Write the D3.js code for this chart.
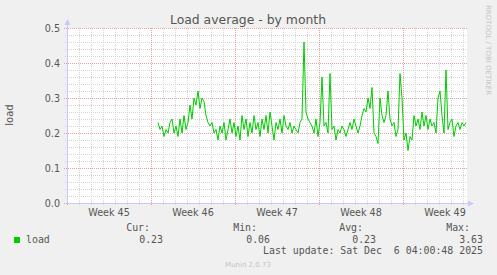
<!DOCTYPE html>
<html>
<head>
<meta charset="utf-8">
<script src="https://cdn.jsdelivr.net/npm/d3@7"></script>
<style>
  body { margin: 0; background: #f0f0f0; }
  text { font-family: "DejaVu Sans", sans-serif; }
  .mono { font-family: "DejaVu Sans Mono", monospace; font-size: 9.9px; fill: #555; }
</style>
</head>
<body>
<div id="chart"></div>
<script>
// series: load average, one sample every 4 hours
const seriesStart = "2025-11-10T14:00:00Z";
const stepHours = 4;
const loadValues = [
  0.23, 0.21, 0.22, 0.19, 0.21, 0.20, 0.23, 0.24, 0.20, 0.22,
  0.19, 0.24, 0.20, 0.25, 0.21, 0.23, 0.28, 0.24, 0.30, 0.28,
  0.32, 0.27, 0.30, 0.29, 0.25, 0.23, 0.22, 0.23, 0.20, 0.21,
  0.18, 0.22, 0.20, 0.23, 0.18, 0.21, 0.24, 0.20, 0.23, 0.19,
  0.22, 0.18, 0.25, 0.21, 0.24, 0.19, 0.23, 0.20, 0.25, 0.21,
  0.23, 0.19, 0.24, 0.21, 0.25, 0.20, 0.26, 0.22, 0.18, 0.23,
  0.21, 0.24, 0.20, 0.25, 0.22, 0.21, 0.23, 0.20, 0.22, 0.21,
  0.20, 0.23, 0.24, 0.46, 0.26, 0.24, 0.23, 0.22, 0.20, 0.24,
  0.19, 0.23, 0.36, 0.22, 0.23, 0.20, 0.37, 0.21, 0.22, 0.18,
  0.21, 0.20, 0.22, 0.21, 0.19, 0.21, 0.23, 0.21, 0.24, 0.22,
  0.20, 0.22, 0.25, 0.27, 0.26, 0.30, 0.27, 0.33, 0.20, 0.19,
  0.17, 0.30, 0.25, 0.23, 0.25, 0.32, 0.24, 0.22, 0.23, 0.19,
  0.21, 0.37, 0.30, 0.18, 0.20, 0.15, 0.19, 0.18, 0.25, 0.22,
  0.24, 0.21, 0.26, 0.22, 0.25, 0.21, 0.24, 0.22, 0.23, 0.20,
  0.30, 0.32, 0.25, 0.20, 0.38, 0.21, 0.23, 0.24, 0.19, 0.22,
  0.23, 0.21, 0.23, 0.22, 0.23
];
const yTicks = [0.0, 0.1, 0.2, 0.3, 0.4, 0.5];
const weekLabels = ["Week 45", "Week 46", "Week 47", "Week 48", "Week 49"];
const legendHeaders = ["Cur:", "Min:", "Avg:", "Max:"];
const legendValues = ["0.23", "0.06", "0.23", "3.63"];
const lastUpdate = "Last update: Sat Dec  6 04:00:48 2025";

const W = 497, H = 275;
const plotLeft = 67, plotRight = 467, plotTop = 28, plotBottom = 203;
const endTime = new Date("2025-12-06T08:00:00Z");
const startTime = new Date(endTime.getTime() - 400 * 7200 * 1000);
const DAY = 86400000;

const svg = d3.select("#chart").append("svg")
  .attr("width", W).attr("height", H)
  .style("display", "block");

svg.append("rect").attr("width", W).attr("height", H).attr("fill", "#f0f0f0");
svg.append("rect")
  .attr("x", plotLeft).attr("y", plotTop)
  .attr("width", plotRight - plotLeft).attr("height", plotBottom - plotTop)
  .attr("fill", "#fff");

const x = d3.scaleUtc().domain([startTime, endTime]).range([plotLeft, plotRight]);
const y = d3.scaleLinear().domain([0, 0.5]).range([plotBottom, plotTop]);
const px = (v) => Math.round(v) + 0.5;

// minor grid: days and 0.02 (skipping where a major line sits)
const days = d3.utcDay.range(startTime, endTime).filter((d) => d.getUTCDay() !== 1);
svg.append("g").selectAll("line").data(days).enter()
  .append("line")
  .attr("x1", (d) => px(x(d))).attr("x2", (d) => px(x(d)))
  .attr("y1", plotTop).attr("y2", plotBottom + 2)
  .attr("stroke", "#d4d4d4").attr("stroke-dasharray", "1,1");
const minorY = d3.range(1, 26).filter((k) => k % 5 !== 0).map((k) => k * 0.02);
svg.append("g").selectAll("line").data(minorY).enter()
  .append("line")
  .attr("x1", plotLeft - 2).attr("x2", plotRight)
  .attr("y1", (d) => px(y(d))).attr("y2", (d) => px(y(d)))
  .attr("stroke", "#d4d4d4").attr("stroke-dasharray", "1,1");

// major grid: weeks and 0.1
const weeks = d3.utcMonday.range(startTime, endTime);
svg.append("g").selectAll("line").data(weeks).enter()
  .append("line")
  .attr("x1", (d) => px(x(d))).attr("x2", (d) => px(x(d)))
  .attr("y1", plotTop).attr("y2", plotBottom + 3)
  .attr("stroke", "#e6a0a0").attr("stroke-dasharray", "1,1");
svg.append("g").selectAll("line").data(yTicks).enter()
  .append("line")
  .attr("x1", plotLeft - 3).attr("x2", plotRight)
  .attr("y1", (d) => px(y(d))).attr("y2", (d) => px(y(d)))
  .attr("stroke", "#e6a0a0").attr("stroke-dasharray", "1,1");

// axes
const axisColor = "#c8c8ff";
svg.append("line").attr("x1", plotLeft + 0.5).attr("x2", plotLeft + 0.5)
  .attr("y1", plotTop - 4).attr("y2", plotBottom + 1).attr("stroke", axisColor);
svg.append("line").attr("x1", plotLeft).attr("x2", plotRight + 2)
  .attr("y1", plotBottom + 0.5).attr("y2", plotBottom + 0.5).attr("stroke", axisColor);
svg.append("path").attr("d", `M${plotLeft - 2.5},${plotTop - 3} L${plotLeft + 3.5},${plotTop - 3} L${plotLeft + 0.5},${plotTop - 9} Z`)
  .attr("fill", axisColor);
svg.append("path").attr("d", `M${plotRight + 1},${plotBottom - 2.5} L${plotRight + 1},${plotBottom + 3.5} L${plotRight + 7},${plotBottom + 0.5} Z`)
  .attr("fill", axisColor);

// y tick labels
svg.append("g").selectAll("text").data(yTicks).enter()
  .append("text")
  .attr("x", plotLeft - 7).attr("y", (d) => y(d) + 3.5)
  .attr("text-anchor", "end")
  .attr("font-size", "9.6px").attr("fill", "#555")
  .text((d) => d.toFixed(1));

// x week labels, centered in each week
svg.append("g").selectAll("text").data(weekLabels).enter()
  .append("text")
  .attr("x", (d, i) => x(new Date(weeks[0].getTime() + (7 * i + 3.5) * DAY)))
  .attr("y", 216)
  .attr("text-anchor", "middle")
  .attr("font-size", "9.6px").attr("fill", "#555")
  .text((d) => d);

// data line
const points = loadValues.map((v, i) => ({
  t: new Date(new Date(seriesStart).getTime() + i * stepHours * 3600 * 1000),
  v: v
}));
svg.append("path")
  .datum(points)
  .attr("fill", "none")
  .attr("stroke", "#00cc00")
  .attr("stroke-width", 1)
  .attr("d", d3.line().x((d) => x(d.t)).y((d) => y(d.v)));

// title and labels
svg.append("text").attr("x", 248).attr("y", 24)
  .attr("text-anchor", "middle").attr("font-size", "12.4px").attr("fill", "#555")
  .text("Load average - by month");
svg.append("text").attr("transform", "translate(13,115) rotate(-90)")
  .attr("text-anchor", "middle").attr("font-size", "10px").attr("fill", "#555")
  .text("load");
svg.append("text").attr("transform", "translate(486,5) rotate(90)")
  .attr("text-anchor", "start").attr("font-size", "7px").attr("fill", "#c4c4c4")
  .text("RRDTOOL / TOBI OETIKER");

// legend
svg.append("rect").attr("x", 14).attr("y", 237).attr("width", 6).attr("height", 6).attr("fill", "#00cc00");
svg.append("text").attr("class", "mono").attr("x", 26).attr("y", 243).text("load");
const headerRight = [150, 257, 363, 470];
svg.append("g").selectAll("text").data(legendHeaders).enter()
  .append("text").attr("class", "mono")
  .attr("x", (d, i) => headerRight[i]).attr("y", 231)
  .attr("text-anchor", "end").text((d) => d);
svg.append("g").selectAll("text").data(legendValues).enter()
  .append("text").attr("class", "mono")
  .attr("x", (d, i) => headerRight[i] + 13).attr("y", 243)
  .attr("text-anchor", "end").text((d) => d);
svg.append("text").attr("class", "mono").attr("x", 483).attr("y", 254)
  .attr("text-anchor", "end").style("white-space", "pre")
  .text(lastUpdate);
svg.append("text").attr("x", 248).attr("y", 267)
  .attr("text-anchor", "middle").attr("font-size", "7px").attr("fill", "#c4c4c4")
  .text("Munin 2.0.73");
</script>
</body>
</html>
